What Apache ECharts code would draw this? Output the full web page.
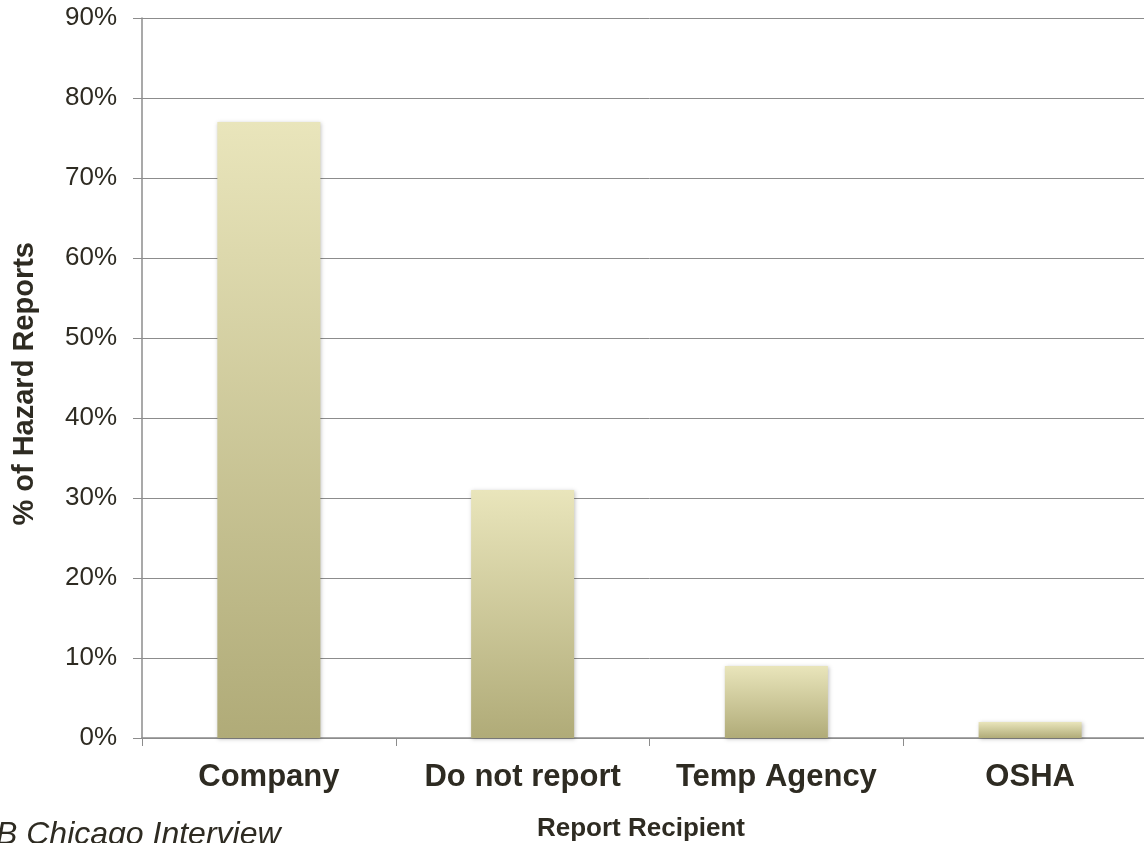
<!DOCTYPE html>
<html><head><meta charset="utf-8">
<script src="https://cdn.jsdelivr.net/npm/echarts@6/dist/echarts.min.js"></script>
<style>html,body{margin:0;padding:0;background:#fff;overflow:hidden;width:1144px;height:843px}#c{width:1157px;height:843px}</style>
</head><body><div id="c"></div>
<script>
const categories = ['Company', 'Do not report', 'Temp Agency', 'OSHA'];
const values = [77, 31, 9, 2];
const yTicks = [0, 10, 20, 30, 40, 50, 60, 70, 80, 90];
const yTitle = '% of Hazard Reports';
const xTitle = 'Report Recipient';
const sourceText = 'B Chicago Interview';

const FONT = 'Liberation Sans, Arial, Helvetica, sans-serif';
const TXT = '#2e2b22';
const chart = echarts.init(document.getElementById('c'));
chart.setOption({
  animation: false,
  backgroundColor: '#fff',
  grid: { left: 142, right: 0, top: 18, bottom: 105, containLabel: false },
  xAxis: {
    type: 'category', data: categories,
    axisLine: { lineStyle: { color: '#8c8c8c', width: 1.5 } },
    axisTick: { show: true, length: 8, lineStyle: { color: '#8c8c8c' } },
    axisLabel: { interval: 0, margin: 24, fontSize: 31, fontWeight: 'bold', color: TXT, fontFamily: FONT }
  },
  yAxis: {
    type: 'value', min: yTicks[0], max: yTicks[yTicks.length - 1], interval: 10,
    axisLine: { show: true, lineStyle: { color: '#8c8c8c', width: 1.5 } },
    axisTick: { show: true, length: 9, lineStyle: { color: '#8c8c8c' } },
    splitLine: { lineStyle: { color: '#8c8c8c', width: 1 } },
    axisLabel: { margin: 25, fontSize: 26, color: TXT, formatter: v => v + '%', fontFamily: FONT }
  },
  series: [{
    type: 'bar', data: values, barWidth: '40.6%',
    itemStyle: {
      color: new echarts.graphic.LinearGradient(0, 0, 0, 1, [
        { offset: 0, color: '#e9e5bb' },
        { offset: 1, color: '#b0ab78' }
      ]),
      shadowColor: 'rgba(0,0,0,0.25)', shadowBlur: 4, shadowOffsetX: 1, shadowOffsetY: 1
    }
  }],
  graphic: [
    { type: 'text', left: 10, top: 242, rotation: Math.PI / 2,
      style: { text: yTitle, fontSize: 29, fontWeight: 'bold', fill: TXT, fontFamily: FONT } },
    { type: 'text', x: 641, y: 829,
      style: { text: xTitle, fontSize: 26, fontWeight: 'bold', fill: TXT, fontFamily: FONT, align: 'center', verticalAlign: 'middle' } },
    { type: 'text', left: -4, top: 819,
      style: { text: sourceText, fontSize: 32, fontStyle: 'italic', fill: TXT, fontFamily: FONT } }
  ]
});
</script></body></html>
